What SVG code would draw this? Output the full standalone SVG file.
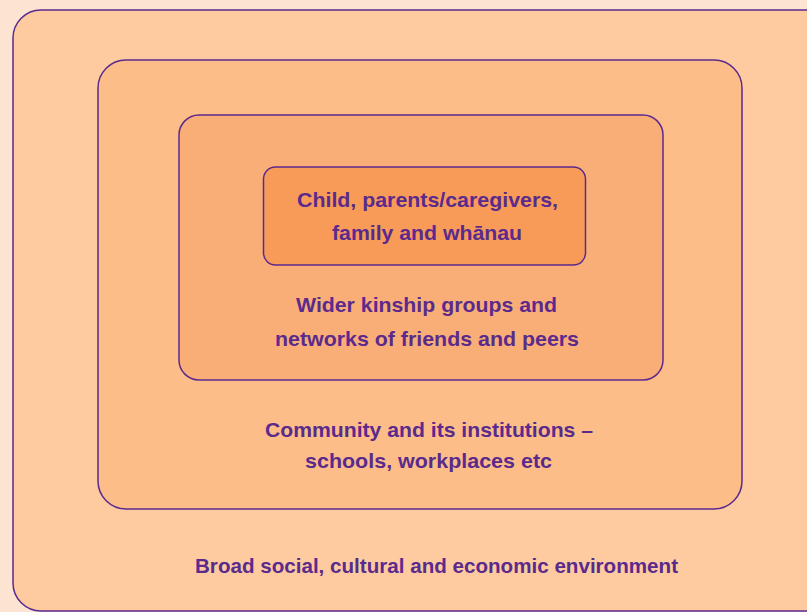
<svg xmlns="http://www.w3.org/2000/svg" width="807" height="612" viewBox="0 0 807 612">
<style>
.box{stroke:#5b2a8e;stroke-width:1.5}
.t{font-family:"Liberation Sans",Arial,sans-serif;font-weight:bold;font-size:21px;fill:#5a2a8c;lengthAdjust:spacingAndGlyphs}
</style>
<rect x="0" y="0" width="807" height="612" fill="#fde3d1"/>
<g id="environment">
<rect class="box" x="13" y="10" width="820" height="601" rx="28" fill="#fdcb9f"/>
<text class="t" x="195" y="573" textLength="483" lengthAdjust="spacingAndGlyphs">Broad social, cultural and economic environment</text>
</g>
<g id="community">
<rect class="box" x="98" y="60" width="644" height="449" rx="28" fill="#fcbd89"/>
<text class="t" x="265" y="437" textLength="328" lengthAdjust="spacingAndGlyphs">Community and its institutions –</text>
<text class="t" x="305" y="468" textLength="247" lengthAdjust="spacingAndGlyphs">schools, workplaces etc</text>
</g>
<g id="kinship">
<rect class="box" x="179" y="115" width="484" height="265" rx="20" fill="#faae77"/>
<text class="t" x="296" y="312" textLength="261" lengthAdjust="spacingAndGlyphs">Wider kinship groups and</text>
<text class="t" x="275" y="346" textLength="304" lengthAdjust="spacingAndGlyphs">networks of friends and peers</text>
</g>
<g id="family">
<rect class="box" x="263.5" y="167" width="322" height="98" rx="12" fill="#f89b58"/>
<text class="t" x="297" y="207" textLength="261" lengthAdjust="spacingAndGlyphs">Child, parents/caregivers,</text>
<text class="t" x="332" y="240" textLength="190" lengthAdjust="spacingAndGlyphs">family and whānau</text>
</g>
<g id="connectors"/>
</svg>
